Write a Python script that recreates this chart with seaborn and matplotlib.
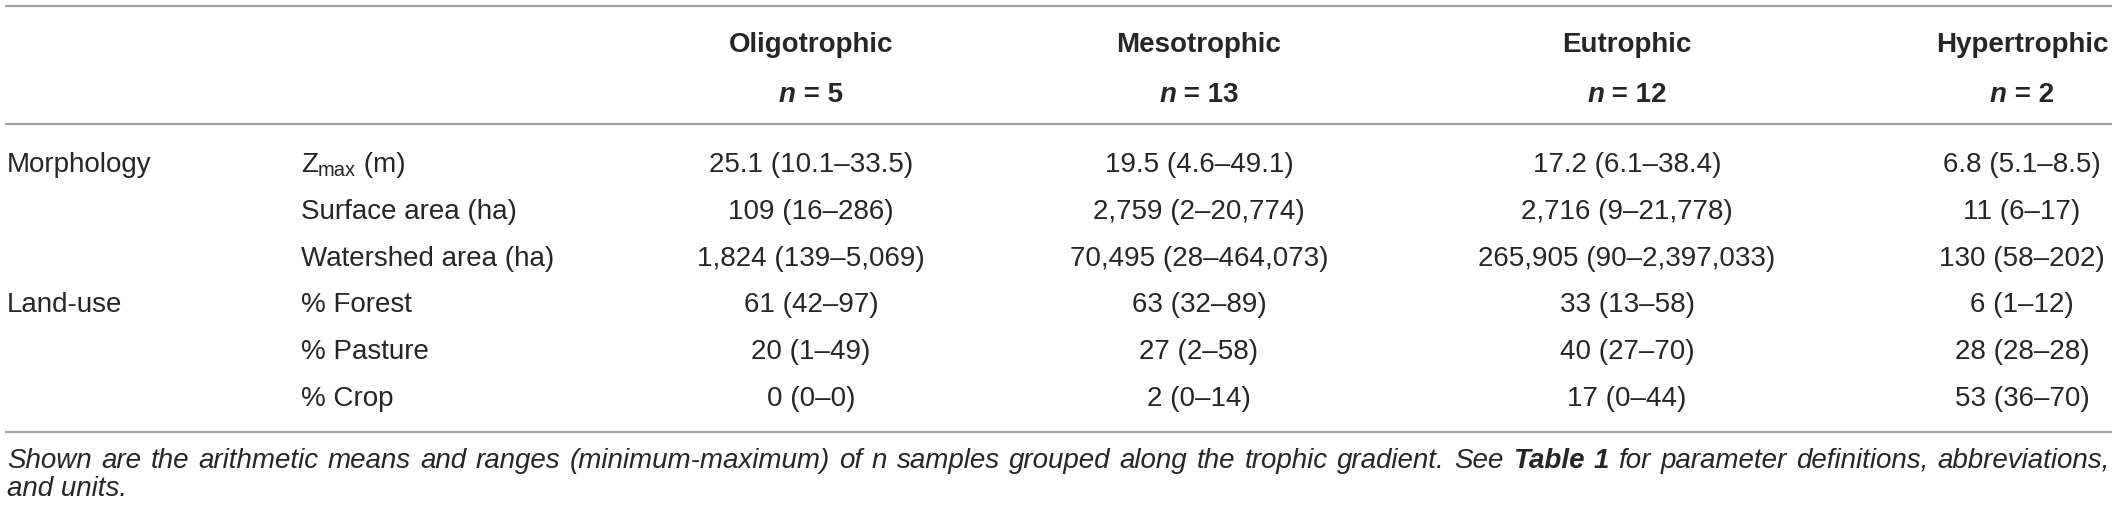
import matplotlib
matplotlib.use("Agg")
import matplotlib.pyplot as plt
import seaborn as sns

# Table content
groups = ["Oligotrophic", "Mesotrophic", "Eutrophic", "Hypertrophic"]
n_samples = [5, 13, 12, 2]
categories = ["Morphology", "Land-use"]
category_rows = [0, 3]
parameters = ["Z|max| (m)", "Surface area (ha)", "Watershed area (ha)",
              "% Forest", "% Pasture", "% Crop"]

oligotrophic = ["25.1 (10.1–33.5)", "109 (16–286)", "1,824 (139–5,069)",
                "61 (42–97)", "20 (1–49)", "0 (0–0)"]
mesotrophic = ["19.5 (4.6–49.1)", "2,759 (2–20,774)", "70,495 (28–464,073)",
               "63 (32–89)", "27 (2–58)", "2 (0–14)"]
eutrophic = ["17.2 (6.1–38.4)", "2,716 (9–21,778)", "265,905 (90–2,397,033)",
             "33 (13–58)", "40 (27–70)", "17 (0–44)"]
hypertrophic = ["6.8 (5.1–8.5)", "11 (6–17)", "130 (58–202)",
                "6 (1–12)", "28 (28–28)", "53 (36–70)"]
values = [oligotrophic, mesotrophic, eutrophic, hypertrophic]

caption_1 = [("Shown are the arithmetic means and ranges (minimum-maximum) of n samples "
              "grouped along the trophic gradient. See", "normal"),
             ("Table 1", "bold"),
             ("for parameter definitions, abbreviations,", "normal")]
caption_2 = "and units."

sns.set_theme(style="white")
plt.rcParams["font.family"] = ["Liberation Sans", "DejaVu Sans"]

W, H = 2118, 513
fig = plt.figure(figsize=(W / 100, H / 100), dpi=100)
ax = fig.add_axes([0, 0, 1, 1])
ax.set_xlim(0, W)
ax.set_ylim(H, 0)
ax.axis("off")
renderer = fig.canvas.get_renderer()

TXT = "#262626"
FS = 20

col_x = [811, 1199, 1627, 2022]
row_y = [163 + 46.6 * i for i in range(len(parameters))]
base = 9.5  # offset from row centre to baseline


def runs(x, y, pieces, align="center"):
    # pieces: (text, weight, style, size, dy)
    items = []
    for s, w, st, sz, dy in pieces:
        t = ax.text(0, y + base + dy, s, fontsize=sz, fontweight=w,
                    fontstyle=st, ha="left", va="baseline", color=TXT)
        items.append(t)
    widths = [t.get_window_extent(renderer).width for t in items]
    cur = x - sum(widths) / 2 if align == "center" else x
    for t, w in zip(items, widths):
        t.set_x(cur)
        cur += w


def justified(x0, x1, y, pieces):
    # spread the words of one caption line from x0 to x1
    words = []
    for s, w in pieces:
        words += [(word, w) for word in s.split(" ")]
    items = [ax.text(0, y + base, s, fontsize=FS, fontweight=w, fontstyle="italic",
                     ha="left", va="baseline", color=TXT) for s, w in words]
    widths = [t.get_window_extent(renderer).width for t in items]
    gap = (x1 - x0 - sum(widths)) / (len(items) - 1)
    cur = x0
    for t, w in zip(items, widths):
        t.set_x(cur)
        cur += w + gap


# rules
ax.hlines([6, 124, 432], 5, 2112, color="#a3a3a3", lw=1.6)

# headers
for x, g, n in zip(col_x, groups, n_samples):
    runs(x, 43, [(g, "bold", "normal", FS, 0)])
    runs(x, 92, [("n", "bold", "italic", FS, 0),
                 (f"\u00a0=\u00a0{n}", "bold", "normal", FS, 0)])

# category labels
for c, r in zip(categories, category_rows):
    runs(7, row_y[r], [(c, "normal", "normal", FS, 0)], align="left")

# parameter labels
for y, p in zip(row_y, parameters):
    if "|" in p:
        a, sub, b = p.split("|")
        runs(301, y, [(a, "normal", "normal", FS, 0),
                      (sub, "normal", "normal", FS * 0.72, 4),
                      (b, "normal", "normal", FS, 0)], align="left")
    else:
        runs(301, y, [(p, "normal", "normal", FS, 0)], align="left")

# cell values
for x, col in zip(col_x, values):
    for y, v in zip(row_y, col):
        runs(x, y, [(v, "normal", "normal", FS, 0)])

# caption
justified(7, 2110, 458, caption_1)
runs(7, 486, [(caption_2, "normal", "italic", FS, 0)], align="left")

fig.savefig("out.png", dpi=100)
